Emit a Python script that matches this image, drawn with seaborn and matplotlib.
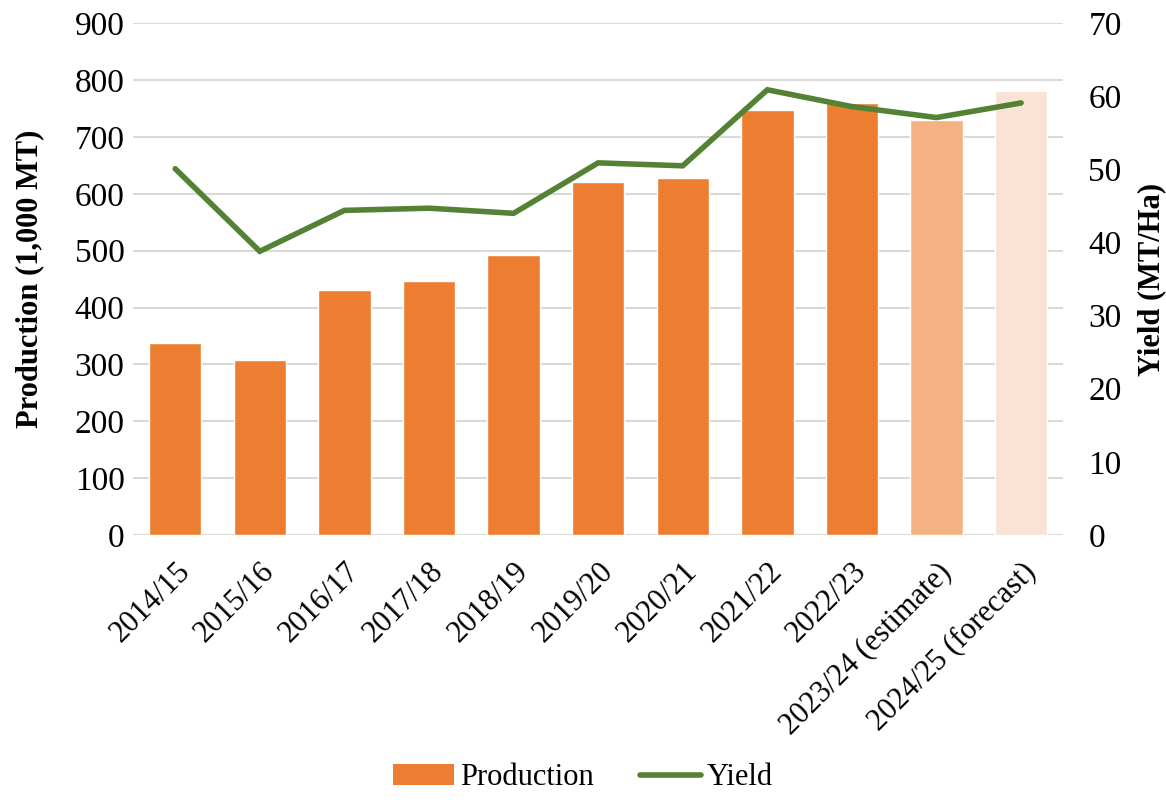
import numpy as np
import pandas as pd
import matplotlib
matplotlib.use("Agg")
import matplotlib.pyplot as plt
import seaborn as sns
from matplotlib.patches import Patch
from matplotlib.lines import Line2D

# --- data ---
years = ["2014/15", "2015/16", "2016/17", "2017/18", "2018/19", "2019/20",
         "2020/21", "2021/22", "2022/23", "2023/24 (estimate)", "2024/25 (forecast)"]
production = [338, 307, 430, 446, 493, 620, 627, 748, 760, 729, 780]   # 1,000 MT
yield_mt_ha = [50.1, 38.8, 44.4, 44.7, 44.0, 50.9, 50.5, 60.9, 58.6, 57.1, 59.1]

bar_colors = ["#ED7D31"] * 9 + ["#F4B183", "#FAE3D4"]
line_color = "#548235"

sns.set_style("white")
plt.rcParams["font.family"] = ["Liberation Serif", "DejaVu Serif"]
plt.rcParams["text.color"] = "black"
plt.rcParams["axes.labelcolor"] = "black"
plt.rcParams["xtick.color"] = "black"
plt.rcParams["ytick.color"] = "black"

df = pd.DataFrame({"year": years, "production": production, "yield": yield_mt_ha})

fig = plt.figure(figsize=(11.66, 8.02), dpi=100)
ax = fig.add_axes([0.114, 0.333, 0.798, 0.638])

sns.barplot(data=df, x="year", y="production", hue="year", palette=bar_colors,
            legend=False, width=0.62, saturation=1, ax=ax, zorder=2)

ax.set_ylim(0, 900)
ax.set_yticks(np.arange(0, 901, 100))
ax.set_xlim(-0.5, len(years) - 0.5)
ax.yaxis.grid(True, color="#D9D9D9", linewidth=1.5, zorder=0)
ax.set_axisbelow(True)
for s in ax.spines.values():
    s.set_visible(False)
ax.tick_params(axis="y", length=0, labelsize=24, pad=6)
ax.tick_params(axis="x", length=0, pad=16)
ax.set_xticks(range(len(years)))
ax.set_xticklabels(years, rotation=45, ha="right", rotation_mode="anchor", fontsize=22)
ax.set_xlabel("")
ax.set_ylabel("Production (1,000 MT)", fontsize=22, fontweight="bold", labelpad=22)

ax2 = ax.twinx()
sns.lineplot(x=np.arange(len(years)), y=yield_mt_ha, color=line_color, linewidth=4,
             solid_capstyle="round", solid_joinstyle="miter", ax=ax2)
ax2.set_ylim(0, 70)
ax2.set_yticks(np.arange(0, 71, 10))
for s in ax2.spines.values():
    s.set_visible(False)
ax2.tick_params(axis="y", length=0, labelsize=24, pad=18)
ax2.set_ylabel("Yield (MT/Ha)", fontsize=22, fontweight="bold", labelpad=11)
ax2.grid(False)

handles = [Patch(facecolor="#ED7D31", edgecolor="none"),
           Line2D([0], [0], color=line_color, linewidth=4)]
fig.legend(handles, ["Production", "Yield"], loc="center", bbox_to_anchor=(0.5, 0.03),
           ncol=2, frameon=False, fontsize=22, handlelength=2.0, handletextpad=0.2,
           columnspacing=1.5)

fig.savefig("out.png", dpi=100)
